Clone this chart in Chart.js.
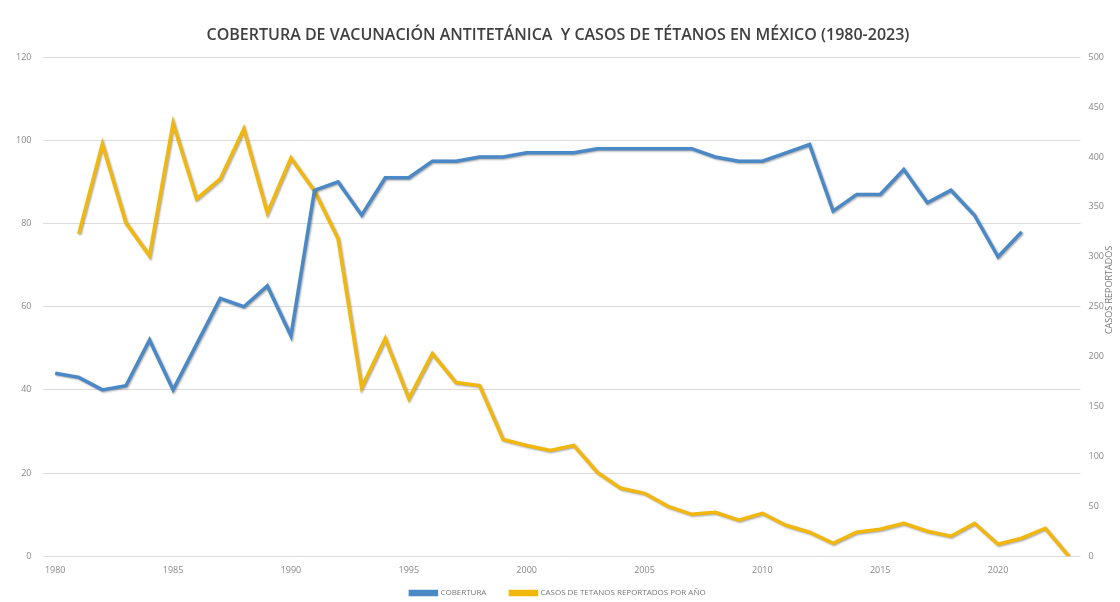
<!DOCTYPE html>
<html><head><meta charset="utf-8">
<script src="https://cdn.jsdelivr.net/npm/chart.js@4/dist/chart.umd.min.js"></script>
<style>html,body{margin:0;padding:0;background:#fff}#wrap{width:1120px;height:602px;position:relative}</style>
</head><body><div id="wrap"><canvas id="c" width="1120" height="602"></canvas></div>
<script>
const years = [];
for (let y = 1980; y <= 2023; y++) years.push(String(y));
const cobertura = [44,43,40,41,52,40,51,62,60,65,53,88,90,82,91,91,95,95,96,96,97,97,97,98,98,98,98,98,96,95,95,97,99,83,87,87,93,85,88,82,72,78,null,null];
const casos = [null,323,413,334,301,434,358,378,428,344,399,366,318,169,218,158,203,174,171,117,111,106,111,84,68,63,50,42,44,36,43,31,24,13,24,27,33,25,20,33,12,18,28,0];
const leftTicks = [0,20,40,60,80,100,120];
const rightTicks = [0,50,100,150,200,250,300,350,400,450,500];
const titleText = 'COBERTURA DE VACUNACIÓN ANTITETÁNICA  Y CASOS DE TÉTANOS EN MÉXICO (1980-2023)';
const rightTitle = 'CASOS REPORTADOS';

const shadowPlugin = {
  id: 'shadow',
  beforeDatasetDraw(chart) { const c = chart.ctx; c.save(); c.shadowColor = 'rgba(0,0,0,0.35)'; c.shadowBlur = 2; c.shadowOffsetX = 1; c.shadowOffsetY = 1; },
  afterDatasetDraw(chart) { chart.ctx.restore(); }
};
const rightTitlePlugin = {
  id: 'rtitle',
  afterDraw(chart) {
    const c = chart.ctx;
    c.save();
    c.translate(1109, 290);
    c.rotate(-Math.PI / 2);
    c.fillStyle = '#777';
    c.font = '9px "Open Sans", sans-serif';
    c.textAlign = 'center'; c.textBaseline = 'middle';
    c.fillText(rightTitle, 0, 0);
    c.restore();
  }
};

new Chart(document.getElementById('c'), {
  type: 'line',
  data: {
    labels: years,
    datasets: [
      { label: 'COBERTURA', data: cobertura, yAxisID: 'y', borderColor: '#4a88c6', backgroundColor: '#4a88c6', borderWidth: 3.5, pointRadius: 0, tension: 0, spanGaps: false },
      { label: 'CASOS DE TETANOS REPORTADOS POR AÑO', data: casos, yAxisID: 'y1', borderColor: '#f2b70c', backgroundColor: '#f2b70c', borderWidth: 3.5, pointRadius: 0, tension: 0 }
    ]
  },
  options: {
    responsive: false, animation: false, devicePixelRatio: 1,
    layout: { padding: { left: 4, right: 8, top: 10, bottom: -5 } },
    plugins: {
      title: { display: true, text: titleText, color: '#404040', font: { family: '"Open Sans", sans-serif', size: 16, weight: '600' }, padding: { top: 16, bottom: 12 } },
      legend: { position: 'bottom', labels: { color: '#777', font: { family: '"Open Sans", sans-serif', size: 8 }, boxWidth: 26, boxHeight: 3, padding: 4,
        generateLabels(chart) { return Chart.defaults.plugins.legend.labels.generateLabels(chart).map((l, i) => { if (i === 0) l.text = l.text + '\u2003\u2003\u2002'; return l; }); } } },
      tooltip: { enabled: false }
    },
    scales: {
      x: {
        type: 'category', offset: true,
        grid: { display: false, drawTicks: false },
        border: { display: false },
        ticks: { color: '#888', font: { family: '"Open Sans", sans-serif', size: 9 }, autoSkip: false, maxRotation: 0, padding: 9,
          callback(v, i) { const y = Number(years[i]); return y % 5 === 0 && y <= 2020 ? years[i] : ''; } }
      },
      y: {
        position: 'left', min: 0, max: 120,
        afterBuildTicks(ax) { ax.ticks = leftTicks.map(v => ({ value: v })); },
        grid: { color: '#dcdcdc', lineWidth: 1, drawTicks: false },
        border: { display: false },
        ticks: { color: '#888', font: { family: '"Open Sans", sans-serif', size: 9 }, padding: 12 }
      },
      y1: {
        position: 'right', min: 0, max: 500,
        afterBuildTicks(ax) { ax.ticks = rightTicks.map(v => ({ value: v })); },
        grid: { display: false, drawTicks: false },
        border: { display: false },
        ticks: { color: '#888', font: { family: '"Open Sans", sans-serif', size: 9 }, padding: 8 }
      }
    }
  },
  plugins: [shadowPlugin, rightTitlePlugin]
});
</script></body></html>
